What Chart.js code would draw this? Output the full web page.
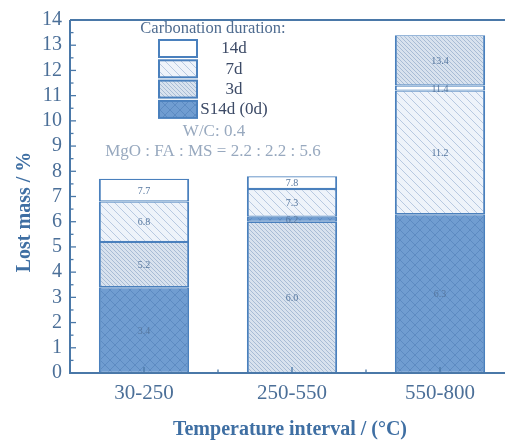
<!DOCTYPE html>
<html><head><meta charset="utf-8">
<script src="https://cdn.jsdelivr.net/npm/chart.js@4"></script>
<style>html,body{margin:0;padding:0;background:#fff;overflow:hidden;width:505px;height:443px}#wrap{width:520px;height:443px;position:relative}</style>
</head><body><div id="wrap"><canvas id="c" width="520" height="443"></canvas></div>
<script>
// ---- data (cumulative lost mass, %) ----
const categories = ['30-250', '250-550', '550-800'];
const seriesNames = ['14d', '7d', '3d', 'S14d (0d)'];
const d14 = [7.7, 7.8, 11.4];
const d7 = [6.8, 7.3, 11.2];
const d3 = [5.2, 6.0, 13.4];
const s14d = [3.4, 6.2, 6.3];
const yTicks = [0,1,2,3,4,5,6,7,8,9,10,11,12,13,14];

const AX = '#4a78a8', BORDER = '#4a80bd', TXT = '#4b6f98';
function pattern(bg, line, s, cross, lw) {
  const c = document.createElement('canvas'); c.width = s; c.height = s;
  const g = c.getContext('2d'); g.fillStyle = bg; g.fillRect(0,0,s,s);
  g.strokeStyle = line; g.lineWidth = lw;
  for (let k=-1;k<=1;k++){ g.beginPath(); g.moveTo(k*s,0); g.lineTo(k*s+s,s); g.stroke();
    if (cross){ g.beginPath(); g.moveTo(k*s+s,0); g.lineTo(k*s,s); g.stroke(); } }
  return document.getElementById('c').getContext('2d').createPattern(c,'repeat');
}
const fills = {
  '14d': '#ffffff',
  '7d': pattern('#eef3fa', '#a9bedb', 8, false, 0.8),
  '3d': pattern('#d8e2ee', '#93acca', 4, false, 0.7),
  'S14d (0d)': pattern('#709dd1', '#5b89c0', 10, true, 0.9)
};
const values = {'14d': d14, '7d': d7, '3d': d3, 'S14d (0d)': s14d};

// floating segments: each series spans from the next-lower value to its own value
function floating(name) {
  return categories.map((_, i) => {
    const v = values[name][i];
    const lower = seriesNames.map(n => values[n][i]).filter(x => x < v);
    return [lower.length ? Math.max(...lower) : 0, v];
  });
}
const datasets = seriesNames.map(n => ({
  label: n, data: floating(n), backgroundColor: fills[n], borderColor: BORDER,
  borderWidth: {left: 2, right: 2, top: 1.2, bottom: 1.2}, borderSkipped: false, grouped: false,
  barPercentage: 0.61, categoryPercentage: 1
}));

const deco = {
  id: 'deco',
  afterDatasetsDraw(chart) {
    const ctx = chart.ctx, a = chart.chartArea, y = chart.scales.y, x = chart.scales.x;
    ctx.save();
    // value labels
    ctx.font = '10px "Liberation Serif"'; ctx.fillStyle = '#56779f';
    ctx.textAlign = 'center'; ctx.textBaseline = 'middle';
    chart.data.datasets.forEach((ds, di) => {
      chart.getDatasetMeta(di).data.forEach((bar, i) => {
        ctx.fillText(ds.data[i][1].toFixed(1), bar.x, (bar.y + bar.base) / 2 + 1);
      });
    });
    // axes frame
    ctx.strokeStyle = AX; ctx.lineWidth = 2;
    ctx.beginPath(); ctx.moveTo(a.left, a.top); ctx.lineTo(a.right + 10, a.top); ctx.stroke();
    ctx.beginPath(); ctx.moveTo(a.left, a.top); ctx.lineTo(a.left, a.bottom); ctx.lineTo(a.right+10, a.bottom); ctx.stroke();
    // inward ticks
    ctx.lineWidth = 1.3;
    yTicks.forEach(t => { const py = y.getPixelForValue(t);
      ctx.beginPath(); ctx.moveTo(a.left, py); ctx.lineTo(a.left + 6, py); ctx.stroke();
      if (t < 14) { const pm = y.getPixelForValue(t + 0.5);
        ctx.beginPath(); ctx.moveTo(a.left, pm); ctx.lineTo(a.left + 3.5, pm); ctx.stroke(); } });
    categories.forEach((c, i) => { const px = x.getPixelForValue(i);
      ctx.beginPath(); ctx.moveTo(px, a.bottom); ctx.lineTo(px, a.bottom - 6); ctx.stroke();
      const pm = px + (x.getPixelForValue(1) - x.getPixelForValue(0)) / 2;
      ctx.beginPath(); ctx.moveTo(pm, a.bottom); ctx.lineTo(pm, a.bottom - 3.5); ctx.stroke(); });
    // axis titles
    ctx.fillStyle = '#3f6fa3'; ctx.font = 'bold 20px "Liberation Serif"';
    ctx.fillText('Temperature interval / (°C)', 290, 430);
    ctx.save(); ctx.translate(25, 212); ctx.rotate(-Math.PI / 2);
    ctx.fillText('Lost mass / %', 0, 0); ctx.restore();
    // legend
    ctx.font = '16.5px "Liberation Serif"'; ctx.fillStyle = '#4f6c90';
    ctx.fillText('Carbonation duration:', 213, 29);
    seriesNames.forEach((n, k) => {
      const by = 40 + k * 20.3;
      ctx.fillStyle = fills[n]; ctx.fillRect(159, by, 38, 17);
      ctx.strokeStyle = BORDER; ctx.lineWidth = 2; ctx.strokeRect(159, by, 38, 17);
      ctx.fillStyle = '#3c4a66'; ctx.font = '17px "Liberation Serif"';
      ctx.fillText(n, 234, by + 9);
    });
    ctx.fillStyle = '#98a9bf'; ctx.font = '17px "Liberation Serif"';
    ctx.fillText('W/C: 0.4', 214, 132);
    ctx.fillText('MgO : FA : MS = 2.2 : 2.2 : 5.6', 213, 152);
    ctx.restore();
  }
};

new Chart(document.getElementById('c'), {
  type: 'bar',
  data: { labels: categories, datasets },
  options: {
    responsive: false, animation: false, events: [],
    layout: { padding: { top: 17, right: 6, left: 0, bottom: 0 } },
    plugins: { legend: { display: false }, tooltip: { enabled: false } },
    scales: {
      x: { stacked: false, grid: { display: false, drawTicks: false }, border: { display: false },
        ticks: { color: TXT, font: { family: 'Liberation Serif', size: 21 }, padding: 8 },
        afterFit: s => { s.height = 70; } },
      y: { min: 0, max: 14, grid: { display: false, drawTicks: false }, border: { display: false },
        ticks: { stepSize: 1, autoSkip: false, color: TXT, font: { family: 'Liberation Serif', size: 20 }, padding: 8 },
        afterFit: s => { s.width = 70; } }
    }
  },
  plugins: [deco]
});
</script></body></html>
